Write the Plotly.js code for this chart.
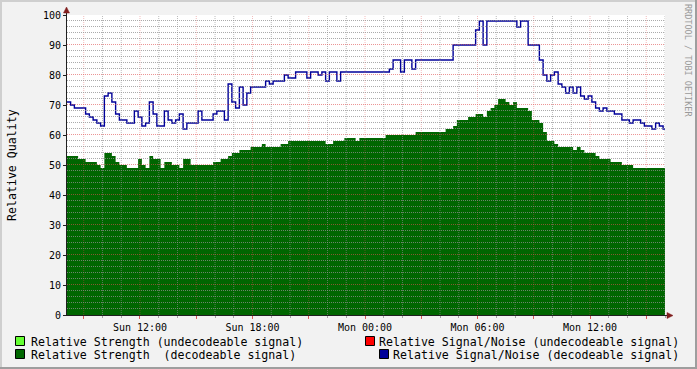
<!DOCTYPE html>
<html><head><meta charset="utf-8">
<script src="https://cdn.plot.ly/plotly-3.0.1.min.js"></script>
<style>html,body{margin:0;padding:0;background:#f2f2f2;}#chart{width:697px;height:369px;}</style>
</head><body><div id="chart"></div>
<script>
// Time axis: hours since Sun 00:00, one sample every 12 minutes
const START_HOUR = 8.1;
const STEP_HOURS = 0.2;

// Relative Strength (decodeable signal)
const strengthDecodeable = [
  53,53,53,52,52,51,51,51,50,49,
  54,54,53,51,50,50,49,49,49,52,
  50,49,53,52,52,49,51,51,50,50,
  49,52,52,50,50,50,50,50,50,51,
  51,52,52,53,54,54,55,55,55,56,
  56,56,57,56,56,56,56,57,57,58,
  58,58,58,58,58,58,58,58,58,57,
  57,58,58,58,59,59,59,58,59,59,
  59,59,59,59,59,60,60,60,60,60,
  60,60,60,61,61,61,61,61,61,61,
  61,62,62,63,65,65,65,66,66,67,
  67,66,68,69,70,72,72,71,70,71,
  69,69,69,68,65,65,64,61,58,58,
  57,56,56,56,56,55,56,55,54,54,
  54,53,52,52,52,51,51,51,50,50,
  50,49,49,49,49,49,49,49,49,49,
  49
];

// Relative Signal/Noise (decodeable signal)
const snrDecodeable = [
  71,70,69,69,69,67,66,65,64,63,
  73,74,71,67,65,65,64,64,68,66,
  63,64,71,67,63,63,68,65,64,65,
  67,62,64,64,64,68,65,65,65,67,
  68,68,65,77,71,69,76,70,74,76,
  76,76,76,78,77,78,78,78,80,79,
  79,81,81,81,79,81,81,80,81,78,
  81,81,78,81,81,81,81,81,81,81,
  81,81,81,81,81,81,82,85,85,81,
  85,85,82,85,85,85,85,85,85,85,
  85,85,85,90,90,90,90,90,90,95,
  98,90,98,98,98,98,98,98,98,98,
  96,98,98,90,90,90,85,80,78,80,
  81,77,76,74,76,74,76,73,72,73,
  71,69,68,69,68,68,67,67,65,65,
  64,65,65,64,63,63,62,64,63,62,
  62
];

const yTickValues = [0,10,20,30,40,50,60,70,80,90,100];
const xTickHours  = [9,12,15,18,21,24,27,30,33,36,39];
const xTickLabels = ['','Sun 12:00','','Sun 18:00','','Mon 00:00','','Mon 06:00','','Mon 12:00',''];

const legendLabels = [
  'Relative Strength (undecodeable signal)',
  'Relative Signal/Noise (undecodeable signal)',
  'Relative Strength\u00a0 (decodeable signal)',
  'Relative Signal/Noise (decodeable signal)'
];
const legendColors = ['#66ff33','#ff0000','#006600','#000099'];

const yTitle = 'Relative Quality';
const watermark = 'RRDTOOL / TOBI OETIKER';

const times = strengthDecodeable.map((_, i) => START_HOUR + i * STEP_HOURS);

const traces = [
  {x: times, y: strengthDecodeable, type: 'scatter', mode: 'lines',
   line: {shape: 'hv', width: 0, color: legendColors[2]},
   fill: 'tozeroy', fillcolor: legendColors[2], hoverinfo: 'skip'},
  {x: times, y: snrDecodeable, type: 'scatter', mode: 'lines',
   line: {shape: 'hv', width: 1.4, color: legendColors[3]}, hoverinfo: 'skip'}
];

const shapes = [];
// frame shading
const frame = [
  [-67,630,313,315,'#cfcfcf'], [-67,-65,-54,315,'#cfcfcf'],
  [-67,630,-54,-52,'#9e9e9e'], [628,630,-54,315,'#9e9e9e']
];
frame.forEach(f => shapes.push({type:'rect', xref:'paper', yref:'paper', xsizemode:'pixel', ysizemode:'pixel',
  xanchor:0, yanchor:0, x0:f[0], x1:f[1], y0:f[2], y1:f[3], fillcolor:f[4], line:{width:0}, layer:'below'}));

// grid (drawn over the traces, like rrdtool)
for (let h = 9; h <= 40; h++) {
  const major = h % 3 === 0;
  shapes.push({type:'line', xref:'x', yref:'paper', x0:h, x1:h, y0:0, y1:1, layer:'above',
    line:{color: major ? 'rgba(222,79,79,0.38)' : 'rgba(143,143,143,0.6)', width:1, dash:'1px,1px'}});
}
for (let v = 2; v <= 100; v += 2) {
  const major = v % 10 === 0;
  shapes.push({type:'line', xref:'paper', yref:'y', ysizemode:'pixel', yanchor:v, x0:0, x1:1, y0:0.5, y1:0.5, layer:'above',
    line:{color: major ? 'rgba(222,79,79,0.6)' : 'rgba(143,143,143,0.75)', width:1, dash:'1px,1px'}});
}
// axis extensions and arrows
const arrowCol = '#801f1f';
shapes.push({type:'path', xref:'paper', yref:'paper', xsizemode:'pixel', ysizemode:'pixel', xanchor:0, yanchor:1,
  path:'M -0.5,0 L -0.5,3', line:{color:'#1f1f1f', width:1}});
shapes.push({type:'path', xref:'paper', yref:'paper', xsizemode:'pixel', ysizemode:'pixel', xanchor:0, yanchor:1,
  path:'M -3.5,2 L 2.5,2 L -0.5,8 Z', fillcolor:arrowCol, line:{color:arrowCol, width:0.5}});
shapes.push({type:'path', xref:'paper', yref:'paper', xsizemode:'pixel', ysizemode:'pixel', xanchor:1, yanchor:0,
  path:'M 0,-0.5 L 3,-0.5', line:{color:'#1f1f1f', width:1}});
shapes.push({type:'path', xref:'paper', yref:'paper', xsizemode:'pixel', ysizemode:'pixel', xanchor:1, yanchor:0,
  path:'M 2,2.5 L 2,-3.5 L 8,-0.5 Z', fillcolor:arrowCol, line:{color:arrowCol, width:0.5}});
shapes.push({type:'path', xref:'paper', yref:'paper', xsizemode:'pixel', ysizemode:'pixel', xanchor:0, yanchor:0,
  path:'M -3,-0.5 L 0,-0.5', line:{color:'#1f1f1f', width:1}});

// legend boxes
const boxPos = [[-51.5,-21.5],[298.5,-21.5],[-51.5,-34.5],[312.5,-34.5]];
boxPos.forEach((p, i) => shapes.push({type:'rect', xref:'paper', yref:'paper', xsizemode:'pixel', ysizemode:'pixel',
  xanchor:0, yanchor:0, x0:p[0], x1:p[0]+9, y0:p[1], y1:p[1]-9, fillcolor:legendColors[i], line:{color:'#000', width:1}}));

const legFont = {family:'DejaVu Sans Mono', size:11.6, color:'#000'};
const annotations = [
  {xref:'paper', yref:'paper', x:0, y:0.5, xshift:-55, xanchor:'center', yanchor:'middle',
   text:yTitle, textangle:-90, showarrow:false, font:legFont},
  {xref:'paper', yref:'paper', x:1, y:0.85, xshift:23, xanchor:'center', yanchor:'middle',
   text:watermark, textangle:90, showarrow:false,
   font:{family:'DejaVu Sans Mono', size:8.5, color:'#9a9a9a'}},
  {xref:'paper', yref:'paper', x:0, y:0, xshift:-38, yshift:-26.5, xanchor:'left', yanchor:'middle', text:legendLabels[0], showarrow:false, font:legFont},
  {xref:'paper', yref:'paper', x:0, y:0, xshift:614, yshift:-26.5, xanchor:'right', yanchor:'middle', text:legendLabels[1], showarrow:false, font:legFont},
  {xref:'paper', yref:'paper', x:0, y:0, xshift:-38, yshift:-39.5, xanchor:'left', yanchor:'middle', text:legendLabels[2], showarrow:false, font:legFont},
  {xref:'paper', yref:'paper', x:0, y:0, xshift:614, yshift:-39.5, xanchor:'right', yanchor:'middle', text:legendLabels[3], showarrow:false, font:legFont}
];

const layout = {
  width:697, height:369,
  margin:{l:67, r:32, t:15, b:54, pad:0},
  paper_bgcolor:'#f2f2f2', plot_bgcolor:'#ffffff',
  showlegend:false,
  font:{family:'DejaVu Sans Mono', size:10, color:'#000'},
  xaxis:{range:[8.107, 40], tickmode:'array', tickvals:xTickHours, ticktext:xTickLabels,
    showgrid:false, zeroline:false, showline:true, linecolor:'#1f1f1f', linewidth:1,
    ticks:'outside', ticklen:3, tickcolor:'rgba(222,79,79,0.9)', tickfont:{size:10},
    minor:{tickmode:'linear', tick0:0, dtick:1, ticks:'outside', ticklen:2, tickcolor:'rgba(143,143,143,0.8)', showgrid:false}},
  yaxis:{range:[0,100], tickmode:'array', tickvals:yTickValues,
    showgrid:false, zeroline:false, showline:true, linecolor:'#1f1f1f', linewidth:1,
    ticks:'outside', ticklen:3, tickcolor:'#1f1f1f', tickfont:{size:10}},
  shapes: shapes,
  annotations: annotations
};

Plotly.newPlot('chart', traces, layout, {staticPlot:true, displayModeBar:false});
</script>
</body></html>
